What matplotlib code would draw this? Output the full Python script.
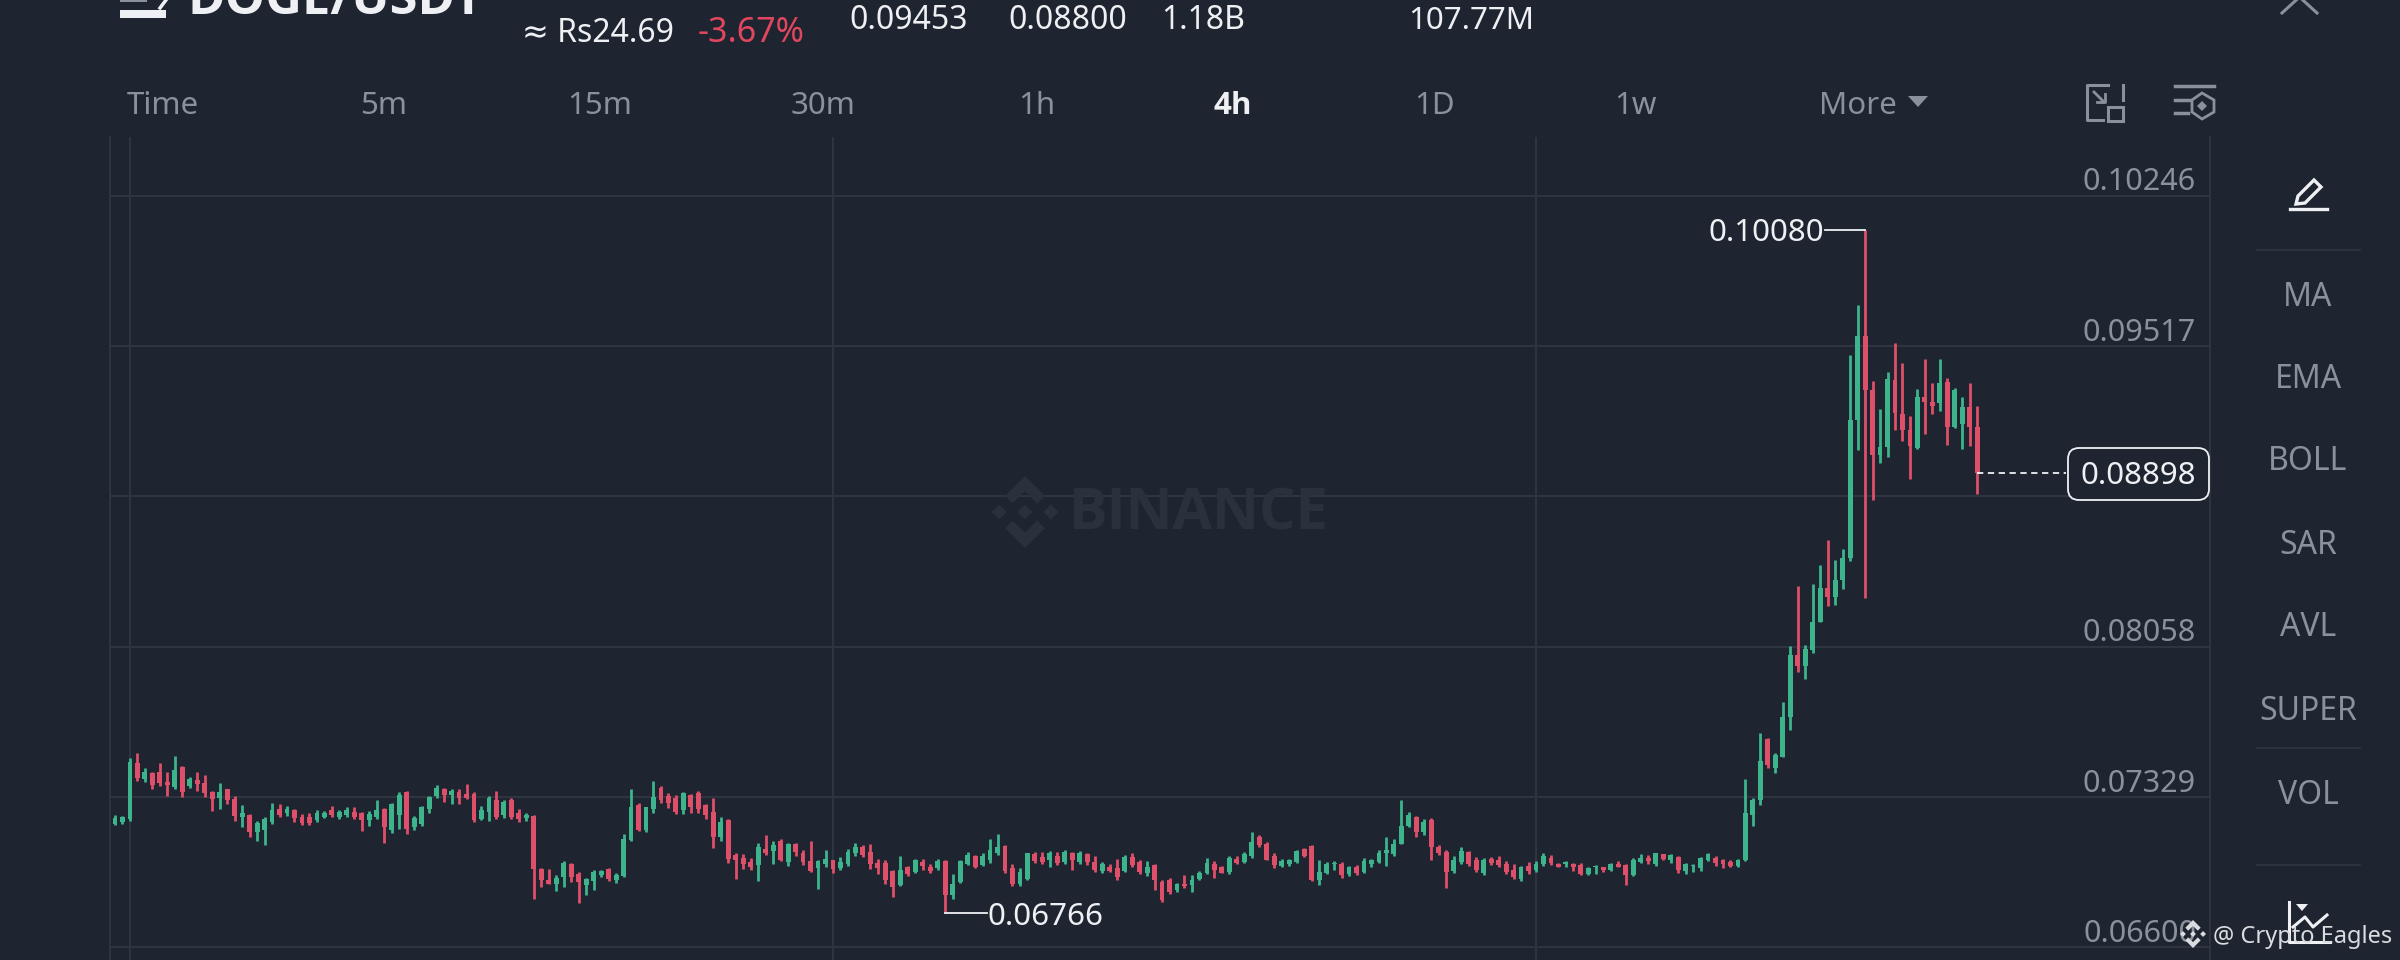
import matplotlib
matplotlib.use("Agg")
import matplotlib.pyplot as plt
import numpy as np
from matplotlib.patches import Polygon, Rectangle, FancyBboxPatch

plt.rcParams['font.family'] = ['Noto Sans', 'DejaVu Sans']

# ---------- data (prices in 1e-5 USDT) ----------
highs = [
 7243,7235,7515,7540,7467,7451,7491,7451,7527,7480,
 7423,7451,7434,7358,7397,7369,7332,7288,7245,7211,
 7229,7297,7293,7284,7269,7245,7248,7267,7258,7285,
 7267,7277,7277,7256,7261,7313,7276,7297,7350,7358,
 7237,7285,7334,7384,7373,7365,7365,7389,7350,7284,
 7332,7357,7313,7324,7269,7251,7242,6982,6977,6950,
 7015,7008,6964,6934,6974,6976,6984,6960,7148,7368,
 7297,7280,7404,7381,7345,7340,7352,7342,7357,7292,
 7324,7232,7220,7057,7049,7033,7107,7143,7115,7122,
 7105,7107,7073,7114,7024,7073,7024,7037,7075,7105,
 7094,7099,7029,7021,6973,7041,6994,7029,7029,7002,
 7026,7021,6952,7024,7060,7045,7054,7123,7148,7096,
 7002,6981,7058,7060,7060,7065,7060,7070,7062,7065,
 7057,7044,7013,7002,7026,7047,7057,7021,7018,7005,
 6927,6937,6913,6950,6948,6969,7034,7018,6994,7041,
 7041,7063,7156,7144,7110,7054,7029,7029,7073,7079,
 7094,7021,7013,7016,7013,6995,6999,7034,7029,7071,
 7135,7126,7313,7253,7235,7219,7225,7097,7070,7042,
 7083,7067,7037,7033,7037,7041,7015,7002,6995,7011,
 7015,7054,7045,7010,7016,7010,7008,6990,6997,6990,
 7008,7016,7002,7033,7049,7047,7058,7052,7052,7041,
 7010,7002,7037,7057,7041,7026,7021,7028,7416,7323,
 7640,7612,7543,7788,8063,8353,8066,8363,8452,8573,
 8476,8531,9473,9716,10080,9347,9209,9391,9533,9433,
 9177,9306,9454,9336,9452,9363,9311,9271,9339,9227]

body_tops = [
 7227,7229,7499,7491,7451,7446,7451,7402,7459,7472,
 7413,7410,7394,7353,7353,7365,7318,7248,7240,7203,
 7219,7264,7272,7272,7264,7232,7229,7248,7251,7264,
 7256,7264,7256,7248,7245,7267,7272,7293,7337,7350,
 7224,7277,7326,7370,7365,7358,7353,7342,7342,7267,
 7321,7313,7305,7313,7251,7240,7238,6977,6927,6937,
 7008,7005,6953,6929,6964,6969,6977,6948,7122,7277,
 7288,7277,7326,7374,7332,7321,7345,7337,7348,7287,
 7256,7208,7216,7045,7034,7013,7086,7078,7094,7115,
 7102,7102,7057,7018,7018,7029,7021,7013,7062,7083,
 7083,7062,7008,7008,6969,6973,6986,7021,7013,6989,
 7018,7018,6908,7018,7045,7041,7041,7070,7086,7089,
 6981,6964,7054,7050,7037,7054,7041,7062,7054,7058,
 7050,7013,7002,6989,6981,7037,7037,7013,6989,6997,
 6916,6924,6908,6908,6924,6960,7008,7002,6986,7034,
 7029,7049,7110,7135,7102,7041,7018,7021,7067,7075,
 7089,6963,7005,7010,7005,6989,6989,7018,7021,7058,
 7073,7102,7188,7240,7229,7208,7216,7086,7062,7021,
 7067,7060,7021,7024,7029,7024,7005,6973,6986,6992,
 7005,7041,7034,7003,7011,7002,7000,6982,6992,6987,
 7003,7005,6997,7024,7034,7034,7054,7049,7045,7037,
 7002,6995,7031,7050,7034,7021,7013,7021,7248,7313,
 7504,7608,7531,7715,8019,8019,8047,8176,8343,8343,
 8379,8489,9157,9566,9566,9303,9028,9355,9352,9185,
 9109,9271,9271,9246,9339,9344,9303,9222,9222,9122]

body_bottoms = [
 7196,7208,7220,7418,7413,7386,7394,7386,7378,7353,
 7381,7391,7348,7316,7321,7313,7235,7232,7159,7159,
 7167,7207,7240,7248,7224,7203,7203,7216,7232,7243,
 7232,7240,7232,7216,7216,7232,7183,7167,7240,7175,
 7183,7199,7272,7332,7337,7337,7321,7321,7216,7220,
 7256,7232,7240,7232,7220,7224,6977,6924,6908,6908,
 6940,6940,6916,6900,6921,6948,6932,6924,6943,7118,
 7167,7167,7272,7313,7297,7256,7264,7277,7272,7240,
 7135,7135,7029,7024,7005,6989,6997,7057,7065,7024,
 7013,7062,7013,6969,6981,7005,6977,6981,7005,7054,
 7045,7005,6981,6927,6892,6900,6956,6964,6992,6969,
 6981,6851,6851,6916,7005,6989,6997,7021,7054,6969,
 6908,6905,6932,7018,7013,7021,7008,7013,7021,7013,
 7013,6973,6969,6969,6940,6969,6997,6964,6960,6924,
 6827,6867,6875,6896,6900,6929,6960,6973,6961,6964,
 7008,7013,7041,7094,7024,6997,6992,7005,7013,7042,
 6927,6927,6960,7002,6948,6956,6960,6964,7005,7013,
 7058,7050,7102,7186,7159,7159,7083,7057,6964,6969,
 7013,7005,6973,6960,7008,7000,6964,6940,6932,6969,
 6973,7002,7008,6989,7002,6986,6953,6956,6986,6973,
 6976,6989,6948,6948,7013,7018,7005,7026,7021,6973,
 6969,6992,6981,7024,7008,7002,6992,6992,7021,7240,
 7313,7483,7467,7523,7715,7966,7966,8039,8176,8298,
 8298,8382,8490,9157,9303,8987,8987,9028,9190,9109,
 9031,9020,9246,9227,9242,9122,9125,9138,9125,8898]

lows = [
 7191,7199,7211,7405,7399,7365,7382,7335,7365,7329,
 7373,7358,7329,7259,7272,7292,7211,7183,7135,7115,
 7097,7196,7229,7238,7208,7190,7190,7206,7224,7232,
 7222,7232,7219,7165,7186,7220,7105,7152,7175,7146,
 7167,7188,7251,7324,7305,7292,7295,7318,7206,7216,
 7212,7220,7224,7219,7209,7212,6835,6890,6905,6870,
 6890,6916,6815,6851,6879,6940,6919,6913,6940,7115,
 7164,7157,7251,7297,7276,7245,7246,7250,7248,7219,
 7081,7115,7010,6930,6979,6973,6919,7045,7002,7016,
 6992,7042,6997,6964,6880,6986,6961,6976,6992,7042,
 7039,6979,6955,6908,6843,6895,6943,6958,6974,6960,
 6974,6766,6835,6911,7000,6981,6994,7010,7045,6961,
 6896,6896,6926,7010,7005,6989,6997,7002,6973,7003,
 7000,6963,6958,6963,6924,6964,6986,6953,6943,6879,
 6817,6859,6869,6888,6867,6924,6953,6937,6958,6953,
 7003,7010,7034,7083,7021,6984,6987,6992,7008,7036,
 6921,6901,6952,6973,6937,6943,6948,6958,6986,7008,
 6992,7041,7099,7180,7135,7144,7024,7045,6887,6960,
 7005,6992,6964,6947,6999,6990,6956,6929,6918,6955,
 6964,6994,7000,6986,6989,6968,6947,6948,6956,6964,
 6971,6986,6900,6943,7008,7002,6995,7021,7008,6958,
 6956,6963,6971,7016,6994,6984,6986,6987,7016,7188,
 7288,7470,7442,7520,7655,7937,7901,8026,8175,8256,
 8260,8338,8472,9012,8294,8769,8950,8976,9109,9057,
 8872,9015,9088,9187,9201,9036,9119,9016,9033,8798]

sides = ("GGGRGRRRGR" "GRRRGRRGRG" "GGRGRRRGGR" "GGRRGGRGGR" "GGGGRGRRRG"
         "GRGRRGRRRG" "GRRGGGRGGG" "RGGRRRGRRR" "RGRRRRGRGR" "GRRRGGRGGG"
         "RRRRRGRGRR" "GRGGGRGGGR" "RGGRRGRGRG" "RRGRRGRRGR" "RRGRGGGRRG"
         "RGGRRRGGGR" "RGGGRGRGGG" "GGGGRGRRRG" "GRRGRRRRGR" "GGRRGRRGGR"
         "GRRGGRGRGR" "GGGGRRRGGG" "GRGGGRGGGR" "GGGGRRGGRR" "RGRRGRGGRR")

grid_prices = [10246, 9517, 8788, 8058, 7329, 6600]
label_prices = [10246, 9517, 8058, 7329, 6600]
grid_candles = [2, 96, 190]
last_price = 8898

tabs = ["Time", "5m", "15m", "30m", "1h", "4h", "1D", "1w", "More"]
indicators = ["MA", "EMA", "BOLL", "SAR", "AVL", "SUPER", "VOL"]

# ---------- styling ----------
BG = "#1E2430"
GRID = "#2F3540"
GREEN = "#3DB48C"
RED = "#DE4F69"
GREY = "#8A919C"
WHITE = "#EEF0F3"
BOLD_FONT = ['Open Sans', 'DejaVu Sans']
W, H = 2400, 960

fig = plt.figure(figsize=(W/100, H/100), dpi=100, facecolor=BG)

# chart axes : px box x 110..2210, y 137..960
ax = fig.add_axes([110/W, 0, (2210-110)/W, (960-137)/H], facecolor=BG)
PX_X = 7.479
PX_V = 4.853
ax.set_xlim((110-115)/PX_X, (2210-115)/PX_X)
ax.set_ylim(6600-13*PX_V, 6600+(947-137)*PX_V)
for s in ax.spines.values():
    s.set_visible(False)
ax.spines['left'].set_visible(True)
ax.spines['right'].set_visible(True)
ax.spines['left'].set_color(GRID)
ax.spines['right'].set_color(GRID)
ax.spines['left'].set_linewidth(1.5)
ax.spines['right'].set_linewidth(1.5)
ax.set_yticks(grid_prices)
ax.set_xticks(grid_candles)
ax.tick_params(length=0, labelleft=False, labelbottom=False)
ax.grid(True, color=GRID, linewidth=1.5, zorder=0)
ax.set_axisbelow(True)

x = np.arange(len(highs))
colors = [GREEN if c == "G" else RED for c in sides]
tops = np.array(body_tops)
bots = np.array(body_bottoms)
ax.vlines(x, lows, highs, colors=colors, linewidth=2.0, zorder=3)
ax.bar(x, np.maximum(tops-bots, 8), bottom=bots, width=0.65, color=colors, linewidth=0, zorder=3)

# price labels
for p in label_prices:
    ax.annotate(f"{p/1e5:.5f}", xy=(1, p), xycoords=('axes fraction', 'data'),
                xytext=(-10, 3.8), textcoords='offset points', ha='right', va='baseline',
                fontsize=22, color=GREY, zorder=5)

# max / min annotations
imax = int(np.argmax(highs))
imin = int(np.argmin(lows))
ax.plot([imax-5.3, imax], [highs[imax]]*2, color=WHITE, lw=1.3, zorder=4)
ax.text(imax-5.5, highs[imax]-16, f"{highs[imax]/1e5:.5f}", ha='right', va='center',
        fontsize=22.5, color=WHITE, zorder=5)
ax.plot([imin, imin+5.6], [lows[imin]]*2, color=WHITE, lw=1.3, zorder=4)
ax.text(imin+5.7, lows[imin]-20, f"{lows[imin]/1e5:.5f}", ha='left', va='center',
        fontsize=22.5, color=WHITE, zorder=5)

# last price line
ax.plot([len(highs)-1, (2066-115)/PX_X], [last_price, last_price], color=WHITE, lw=1.3,
        dashes=(3.5, 2.5), zorder=4)

# ---------- overlay in pixel coordinates ----------
ov = fig.add_axes([0, 0, 1, 1], facecolor='none')
ov.set_xlim(0, W)
ov.set_ylim(H, 0)
ov.axis('off')


def label(xp, yp, s, size=22.5, color=GREY, ha='left', va='baseline', weight='normal', z=6, family=None):
    ov.text(xp, yp, s, fontsize=size, color=color, ha=ha, va=va, fontweight=weight,
            clip_on=False, zorder=z, family=family)


def binance(cx, cy, r, color, zorder=6):
    d = r*0.21
    for dx, dy in [(0, 0), (-r*0.72, 0), (r*0.72, 0)]:
        ov.add_patch(Polygon([(cx+dx-d, cy+dy), (cx+dx, cy+dy-d), (cx+dx+d, cy+dy), (cx+dx, cy+dy+d)],
                             color=color, lw=0, zorder=zorder))
    t = r*0.3
    for sgn in (-1, 1):
        ov.add_patch(Polygon([(cx, cy+sgn*r), (cx+r*0.55, cy+sgn*(r*0.45)), (cx+r*0.55-t*0.7, cy+sgn*(r*0.45-t*0.7)),
                              (cx, cy+sgn*(r-2*t*0.7)), (cx-r*0.55+t*0.7, cy+sgn*(r*0.45-t*0.7)),
                              (cx-r*0.55, cy+sgn*(r*0.45))], color=color, lw=0, zorder=zorder))


# header
label(188, 14, "DOGE/USDT", size=36.5, color=WHITE, weight='bold', family=BOLD_FONT)
ov.add_patch(Rectangle((120, 10), 46, 8, color=WHITE, lw=0))
ov.add_patch(Rectangle((120, 0), 27, 2, color=GREY, lw=0))
ov.plot([160, 166], [8, 0], color=WHITE, lw=2.5)
label(522, 42, "≈ Rs24.69", size=23, color=WHITE)
label(698, 42, "-3.67%", size=24.5, color="#E0475F")
label(849, 29, "0.09453", size=23, color=WHITE)
label(1008, 29, "0.08800", size=23, color=WHITE)
label(1161, 29, "1.18B", size=23, color=WHITE)
label(1408, 29, "107.77M", size=22.5, color=WHITE)
ov.plot([2282, 2299.5, 2317], [13, -3, 13], color=GREY, lw=2.2)

# tabs
tab_x = [127, 360, 567, 791, 1018, 1214, 1414, 1614, 1819]
for t, xp in zip(tabs, tab_x):
    if t == "4h":
        label(xp, 114, t, color=WHITE, weight='bold', family=BOLD_FONT)
    else:
        label(xp, 114, t)
ov.add_patch(Polygon([(1908, 96), (1928, 96), (1918, 107)], color=GREY, lw=0))

# top-right icons
ov.plot([2108, 2087, 2087, 2103], [85, 85, 120, 120], color=GREY, lw=2.2)
ov.plot([2123, 2123], [85, 100], color=GREY, lw=2.2)
ov.add_patch(Rectangle((2108, 107), 15, 14, fill=False, ec=GREY, lw=2.2))
ov.plot([2094, 2104], [92, 102], color=GREY, lw=2)
ov.plot([2097, 2105, 2105], [102, 102, 94], color=GREY, lw=2)
ov.plot([2175, 2214], [86, 86], color=GREY, lw=2.5)
ov.plot([2175, 2190], [100, 100], color=GREY, lw=2.5)
ov.plot([2175, 2188], [113, 113], color=GREY, lw=2.5)
ov.add_patch(Polygon([(2202, 93), (2214, 100), (2214, 112), (2202, 119), (2192, 112), (2192, 100)],
                     fill=False, ec=GREY, lw=2))
ov.add_patch(Polygon([(2202, 101), (2207, 106), (2202, 111), (2197, 106)], color=GREY, lw=0))

# watermark
label(1069, 530, "BINANCE", size=41.5, color="#2B313C", weight='bold', z=1, family=BOLD_FONT)
binance(1025, 512, 36, "#2B313C", zorder=1)

# current price box
ov.add_patch(FancyBboxPatch((2073, 453), 131, 42, boxstyle="round,pad=5,rounding_size=11",
                            fc=BG, ec=WHITE, lw=1.3, zorder=5))
label(2138, 476, f"{last_price/1e5:.5f}", size=22.5, color=WHITE, ha='center', va='center', z=7)

# side panel
ov.add_patch(Polygon([(2296, 204), (2298, 196), (2314, 180), (2321, 187), (2305, 203)],
                     fill=False, ec=WHITE, lw=2.4))
ov.plot([2290, 2327], [209, 209], color=WHITE, lw=2.4)
for yp in (250, 748, 865):
    ov.plot([2257, 2360], [yp, yp], color=GRID, lw=1.3)
for t, yp in zip(indicators, [297, 379, 462, 545, 627, 712, 796]):
    label(2308, yp, t, size=23, ha='center', va='center')

# bottom-right chart icon
ov.plot([2289, 2289, 2330], [902, 942, 942], color=WHITE, lw=2.2, zorder=6)
ov.plot([2293, 2305, 2313, 2327], [927, 917, 927, 915], color=WHITE, lw=2.2, zorder=6)
ov.add_patch(Polygon([(2296, 904), (2308, 904), (2302, 911)], color=WHITE, lw=0, zorder=6))

# credit
binance(2193, 934, 14, "#DADCE0", zorder=7)
ov.text(2213, 943, "@ Crypto Eagles", fontsize=17, color="#DADCE0", ha='left', va='baseline', zorder=7)

fig.savefig("out.png", dpi=100, facecolor=BG)
